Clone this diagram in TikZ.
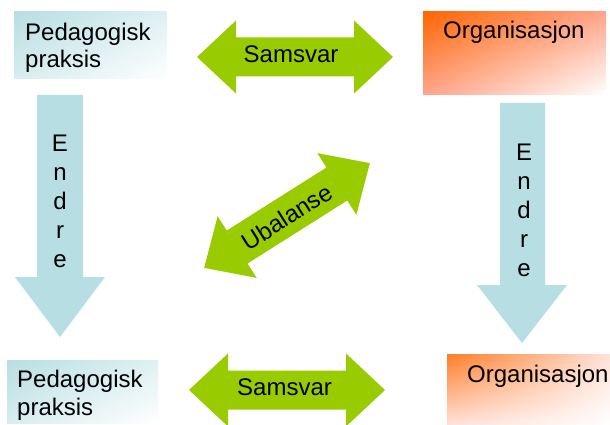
\documentclass[tikz,border=0pt]{standalone}
\usepackage{fontspec}
\setmainfont{Liberation Sans}
\usetikzlibrary{shadings}
\definecolor{agreen}{HTML}{99CC00}
\definecolor{acyan}{HTML}{B7DEE2}
\definecolor{aorange}{HTML}{FF6600}
\definecolor{asalmon}{HTML}{FFA48C}
\definecolor{apale}{HTML}{FFE2DA}
\begin{document}
\begin{tikzpicture}[x=1pt,y=-1pt,
  lbl/.style={font=\fontsize{24}{28}\selectfont, inner sep=0pt, text=black},
  dblarrow/.pic={\fill[agreen] (-98,0) -- (-59,-36.5) -- (-59,-19.5) -- (59,-19.5) -- (59,-36.5) -- (98,0) -- (59,36.5) -- (59,19.5) -- (-59,19.5) -- (-59,36.5) -- cycle;}]
\useasboundingbox (0,0) rectangle (610,425);
\fill[white] (0,0) rectangle (610,425);
% boxes
\shade[upper left=acyan, upper right=acyan!45, lower left=acyan!55, lower right=white] (14,12) rectangle (167,79);
\shade[upper left=acyan, upper right=acyan!45, lower left=acyan!55, lower right=white] (7,360) rectangle (158,423);
\shade[upper left=aorange, upper right=asalmon, lower left=asalmon, lower right=white] (423,12) rectangle (606,95);
\shade[upper left=aorange!85!white, upper right=apale, lower left=apale, lower right=white] (447,354) rectangle (610,425);
% vertical arrows
\fill[acyan] (37,95) -- (83,95) -- (83,277) -- (105,277) -- (60,337) -- (15,277) -- (37,277) -- cycle;
\fill[acyan] (500,103) -- (545,103) -- (545,285) -- (567,285) -- (522,343) -- (477,285) -- (500,285) -- cycle;
% green double arrows
\pic at (295,57) {dblarrow};
\pic at (287,390) {dblarrow};
\pic[rotate=32.3] at (287,215.5) {dblarrow};
% texts
\node[lbl, anchor=base west] (pl1) at (25,41) {Pedagogisk};
\node[lbl, anchor=base west] (pl2) at (25,68) {praksis};
\node[lbl, anchor=base west] (or1) at (443,39) {Organisasjon};
\node[lbl, anchor=base] (s1) at (291,63) {Samsvar};
\node[lbl, anchor=base west] (pl3) at (17,387) {Pedagogisk};
\node[lbl, anchor=base west] (pl4) at (17,415) {praksis};
\node[lbl, anchor=base west] (or2) at (467,382) {Organisasjon};
\node[lbl, anchor=base] (s2) at (284.5,395) {Samsvar};
\node[lbl, rotate=32.3] (ub) at (287,217) {Ubalanse};
\foreach \l [count=\i] in {E,n,d,r,e} {
  \node[lbl, anchor=base] (el\i) at (60,{151+29*(\i-1)}) {\l};
  \node[lbl, anchor=base] (er\i) at (524,{160+29*(\i-1)}) {\l};
}
\end{tikzpicture}
\end{document}
